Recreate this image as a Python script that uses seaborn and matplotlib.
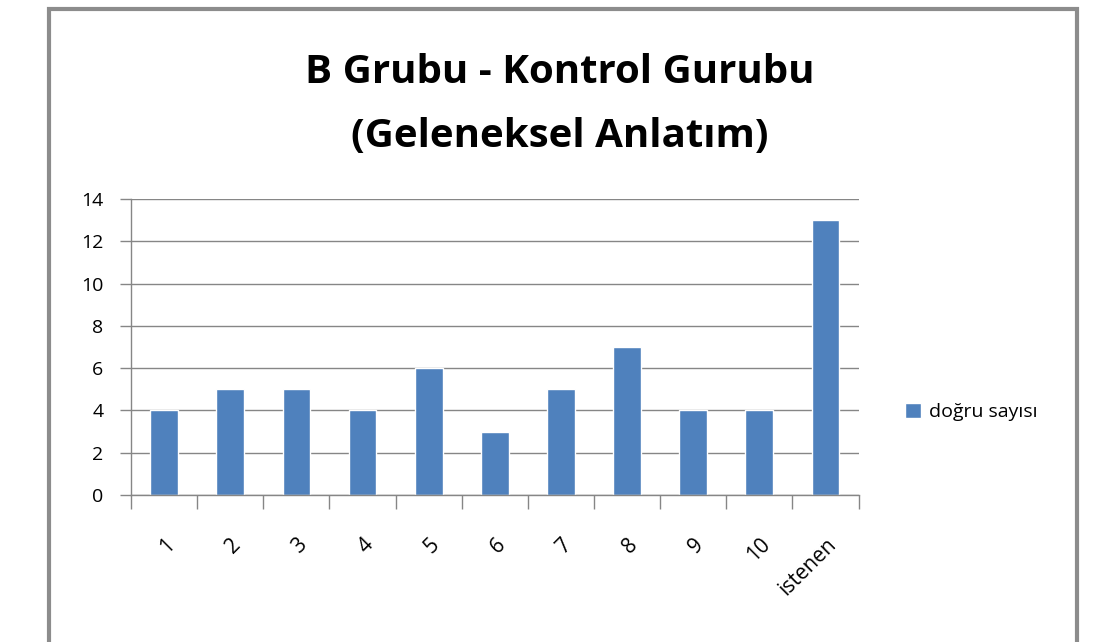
import matplotlib
matplotlib.use('Agg')
import matplotlib.pyplot as plt
import seaborn as sns
import pandas as pd
from matplotlib.patches import Rectangle

categories = ['1', '2', '3', '4', '5', '6', '7', '8', '9', '10', 'istenen']
dogru_sayisi = [4, 5, 5, 4, 6, 3, 5, 7, 4, 4, 13]
y_ticks = [0, 2, 4, 6, 8, 10, 12, 14]

sns.set_theme(style="white")
plt.rcParams['font.family'] = ['Open Sans', 'DejaVu Sans']
plt.rcParams['text.color'] = 'black'
plt.rcParams['xtick.color'] = 'black'
plt.rcParams['ytick.color'] = 'black'

df = pd.DataFrame({'soru': categories, 'dogru': dogru_sayisi})

fig = plt.figure(figsize=(11.04, 6.42), dpi=100)
fig.add_artist(Rectangle((0.0444, -0.02), 0.931, 1.006, transform=fig.transFigure,
                         fill=False, edgecolor='#8c8c8c', linewidth=3))

ax = fig.add_axes([0.1187, 0.229, 0.659, 0.461])
sns.barplot(data=df, x='soru', y='dogru', color='#4F81BD', saturation=1,
            width=0.42, ax=ax, label='doğru sayısı')

ax.set_ylim(0, 14)
ax.set_xlim(-0.5, len(categories) - 0.5)
ax.set_yticks(y_ticks)
ax.yaxis.grid(True, color='#868686', linewidth=1)
ax.set_axisbelow(True)
for s in ['top', 'right']:
    ax.spines[s].set_visible(False)
for s in ['left', 'bottom']:
    ax.spines[s].set_color('#868686')
    ax.spines[s].set_linewidth(1)

# category separators below the axis
ax.set_xticks([i - 0.5 for i in range(len(categories) + 1)], minor=True)
ax.tick_params(axis='x', which='minor', length=10, color='#868686', bottom=True, width=1)
ax.tick_params(axis='x', which='major', length=0, pad=28)
ax.tick_params(axis='y', length=8, color='#868686', left=True, width=1, labelsize=14, pad=12)
ax.set_xticks(range(len(categories)))
ax.set_xticklabels(categories, rotation=45, ha='right', rotation_mode='anchor', fontsize=15)
ax.set_xlabel('')
ax.set_ylabel('')

ax.legend(loc='center left', bbox_to_anchor=(1.04, 0.28), frameon=False,
          fontsize=14, handlelength=0.8, handleheight=0.8, handletextpad=0.4)

fig.text(0.507, 0.887, 'B Grubu - Kontrol Gurubu', ha='center', va='center',
         fontsize=29, fontweight='bold')
fig.text(0.507, 0.787, '(Geleneksel Anlatım)', ha='center', va='center',
         fontsize=29, fontweight='bold')

fig.savefig('out.png', dpi=100)
